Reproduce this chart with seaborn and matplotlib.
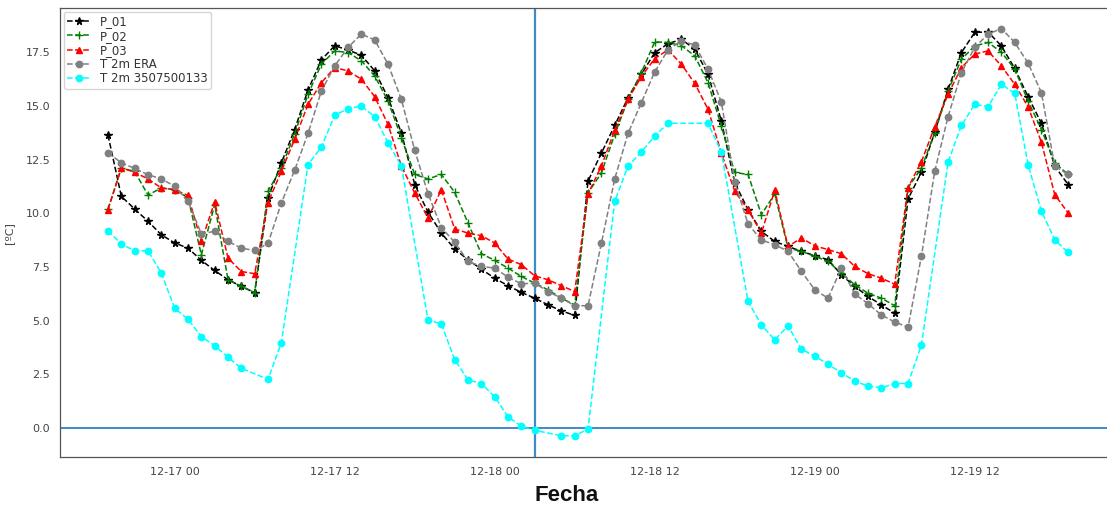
import numpy as np
import pandas as pd
import matplotlib
matplotlib.use("Agg")
import matplotlib.pyplot as plt
import matplotlib.dates as mdates
import seaborn as sns

# Hourly timestamps, 16 Dec 19:00 -> 19 Dec 19:00
start = "2019-12-16 19:00"
n_hours = 73

p01 = [13.64, 10.79, 10.2, 9.63, 9.0, 8.62, 8.38, 7.81, 7.34, 6.91, 6.6, 6.31,
       10.72, 12.35, 13.9, 15.74, 17.14, 17.8, 17.6, 17.36, 16.63, 15.38, 13.75, 11.34,
       10.05, 9.08, 8.34, 7.84, 7.4, 6.98, 6.63, 6.32, 6.05, 5.74, 5.46, 5.25,
       11.5, 12.8, 14.09, 15.38, 16.47, 17.48, 17.89, 18.1, 17.64, 16.47, 14.29, 11.42,
       10.17, 9.16, 8.69, 8.46, 8.23, 8.03, 7.84, 7.14, 6.6, 6.13, 5.74, 5.35,
       10.67, 11.91, 13.78, 15.77, 17.48, 18.42, 18.44, 17.79, 16.74, 15.43, 14.19, 12.2,
       11.34]

p02 = [10.2, 12.1, 11.95, 10.85, 11.18, 11.1, 10.72, 8.07, 10.4, 6.91, 6.6, 6.31,
       11.03, 12.12, 13.7, 15.54, 16.94, 17.56, 17.48, 17.1, 16.39, 15.23, 13.52, 11.81,
       11.6, 11.81, 10.98, 9.55, 8.12, 7.81, 7.45, 7.06, 6.75, 6.44, 6.05, 5.74,
       10.95, 11.88, 13.67, 15.3, 16.55, 17.98, 17.95, 17.8, 17.33, 16.08, 14.06, 11.9,
       11.81, 9.94, 10.9, 8.38, 8.23, 8.0, 7.76, 7.22, 6.67, 6.28, 6.05, 5.7,
       11.2, 12.1, 13.75, 15.7, 17.17, 17.79, 17.95, 17.5, 16.71, 15.23, 13.9, 12.35,
       11.81]

p03 = [10.17, 12.12, 11.91, 11.6, 11.18, 11.1, 10.83, 8.69, 10.53, 7.92, 7.29, 7.19,
       10.5, 11.96, 13.44, 15.07, 16.08, 16.78, 16.63, 16.24, 15.43, 14.14, 12.2, 10.95,
       9.78, 11.1, 9.27, 9.08, 8.96, 8.62, 7.87, 7.61, 7.09, 6.91, 6.63, 6.36,
       10.9, 12.2, 13.87, 15.3, 16.36, 17.2, 17.61, 16.94, 16.05, 14.84, 12.8, 11.03,
       10.17, 9.08, 11.07, 8.46, 8.85, 8.49, 8.31, 8.12, 7.53, 7.19, 6.98, 6.7,
       11.2, 12.4, 14.03, 15.54, 16.78, 17.41, 17.56, 16.86, 16.0, 14.96, 13.31, 10.87,
       10.02]

t2m_era = [12.82, 12.35, 12.09, 11.8, 11.6, 11.26, 10.56, 9.05, 9.16, 8.69, 8.38, 8.27,
           8.6, 10.48, 12.01, 13.72, 15.69, 16.86, 17.72, 18.34, 18.07, 16.94, 15.31, 12.94,
           10.92, 9.34, 8.65, 7.76, 7.53, 7.45, 7.03, 6.72, 6.75, 6.36, 6.05, 5.7,
           5.7, 8.6, 11.6, 13.72, 15.15, 16.58, 17.61, 18.03, 17.83, 16.71, 15.18, 11.46,
           9.5, 8.76, 8.54, 8.23, 7.3, 6.44, 6.05, 7.45, 6.25, 5.79, 5.27, 4.94,
           4.7, 8.0, 11.96, 14.5, 16.55, 17.72, 18.34, 18.6, 17.95, 16.99, 15.62, 12.2,
           11.81]

nan = np.nan
t2m_station = [9.19, 8.57, 8.26, 8.26, 7.22, 5.58, 5.07, 4.26, 3.84, 3.3, 2.79, nan,
               2.27, 3.98, nan, 12.27, 13.08, 14.56, 14.87, 14.99, 14.5, 13.28, 12.2, nan,
               5.04, 4.85, 3.19, 2.25, 2.08, 1.46, 0.53, 0.09, -0.1, nan, -0.35, -0.35,
               -0.04, nan, 10.56, 12.2, 12.85, 13.6, 14.19, nan, nan, 14.19, 12.85, nan,
               5.9, 4.81, 4.11, 4.76, 3.67, 3.36, 2.97, 2.58, 2.19, 1.96, 1.88, 2.08,
               2.08, 3.87, nan, 12.38, 14.09, 15.07, 14.96, 16.0, 15.59, 12.27, 10.1, 8.77,
               8.18]

series_names = ["P_01", "P_02", "P_03", "T 2m ERA", "T 2m 3507500133"]
series_values = [p01, p02, p03, t2m_era, t2m_station]
series_colors = ["black", "green", "red", "grey", "cyan"]
series_markers = ["*", "+", "^", "o", "o"]
marker_sizes = {"*": 5.5, "+": 5.5, "^": 5.0, "o": 4.6}

reference_time = "2019-12-18 03:00"

times = pd.date_range(start, periods=n_hours, freq="h")

sns.set_style("white")
plt.rcParams["font.family"] = ["DejaVu Sans"]

fig = plt.figure(figsize=(11.07, 5.11), dpi=100)
ax = fig.add_axes([0.0542, 0.1057, 0.954, 0.878])

for name, vals, col, mk in zip(series_names, series_values, series_colors, series_markers):
    df = pd.DataFrame({"Fecha": times, "T": vals}).dropna()
    sns.lineplot(data=df, x="Fecha", y="T", ax=ax, color=col, marker=mk,
                 linestyle="--", linewidth=1.1, markersize=marker_sizes[mk],
                 markeredgecolor=col, markeredgewidth=1.0,
                 label=name, sort=False)

ax.axhline(0, color="#3d8bc9", linewidth=1.4, zorder=1)
ax.axvline(pd.Timestamp(reference_time), color="#3d8bc9", linewidth=1.6, zorder=1)

span = times[-1] - times[0]
ax.set_xlim(times[0] - 0.05 * span, times[-1] + 0.05 * span)
ax.set_ylim(-1.34, 19.54)
ax.set_yticks(np.arange(0, 17.6, 2.5))
ax.xaxis.set_major_locator(mdates.HourLocator(byhour=[0, 12]))
ax.xaxis.set_major_formatter(mdates.DateFormatter("%m-%d %H"))
ax.tick_params(axis="both", labelsize=8, colors="#333333", length=3.5, width=0.8)
for lab in ax.get_xticklabels() + ax.get_yticklabels():
    lab.set_color("#444444")

for sp in ax.spines.values():
    sp.set_color("#555555")
    sp.set_linewidth(0.9)

ax.set_xlabel("")
fig.text(567 / 1107, 1 - 495 / 511, "Fecha", ha="center", va="center",
         fontsize=16, fontweight="bold", family="Liberation Sans", color="#111111")
ax.set_ylabel("[ºC]", fontsize=8, color="#444444")
ax.yaxis.set_label_coords(-0.043, 0.5)

leg = ax.legend(loc="upper left", fontsize=8.5, frameon=True, handlelength=2.0,
                borderpad=0.3, labelspacing=0.1, borderaxespad=0.3, fancybox=True)
leg.get_frame().set_edgecolor("#cccccc")
for t in leg.get_texts():
    t.set_color("#333333")

fig.savefig("out.png", dpi=100)
